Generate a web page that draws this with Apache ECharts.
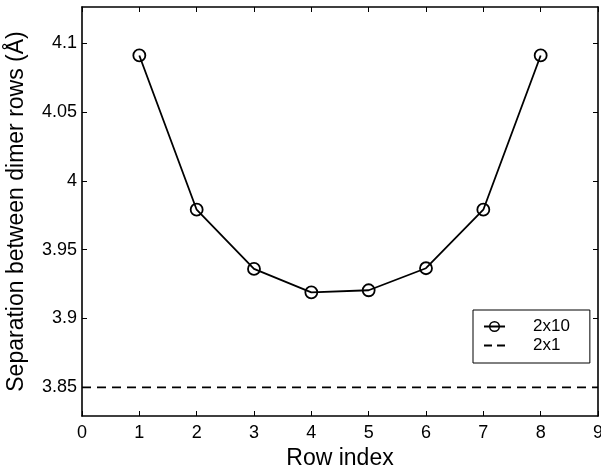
<!DOCTYPE html>
<html>
<head>
<meta charset="utf-8">
<script src="https://cdn.jsdelivr.net/npm/echarts@6/dist/echarts.min.js"></script>
<style>html,body{margin:0;padding:0;background:#fff;}#c{width:601px;height:470px;}</style>
</head>
<body>
<div id="c"></div>
<script>
var rowIndex = [1, 2, 3, 4, 5, 6, 7, 8];
var separation2x10 = [4.091, 3.979, 3.936, 3.919, 3.9205, 3.9365, 3.979, 4.091];
var ref2x1X = [0, 9];
var ref2x1Y = [3.85, 3.85];
var yTicks = [3.85, 3.9, 3.95, 4.0, 4.05, 4.1];
var xTicks = [0, 1, 2, 3, 4, 5, 6, 7, 8, 9];

var FONT = 'Liberation Sans, Arial, Helvetica, sans-serif';
var chart = echarts.init(document.getElementById('c'), null, {renderer: 'canvas'});

function pairs(xs, ys) { return xs.map(function (x, i) { return [x, ys[i]]; }); }

var axisLine = {show: true, onZero: false, lineStyle: {color: '#000', width: 1.6}};
var tick = {show: true, inside: true, length: 5, lineStyle: {color: '#000', width: 1}};

chart.setOption({
  animation: false,
  backgroundColor: '#fff',
  grid: {left: 82, right: 3, top: 7, bottom: 54, containLabel: false, outerBoundsMode: 'none'},
  legend: {
    orient: 'vertical',
    left: 473, top: 310,
    padding: [8, 20, 9, 10],
    itemGap: 2,
    itemWidth: 21, itemHeight: 12,
    backgroundColor: '#fff',
    borderColor: '#000', borderWidth: 1,
    textStyle: {fontFamily: FONT, fontSize: 17, color: '#000', padding: [0, 0, 0, 23]},
    data: [
      {name: '2x10', itemStyle: {color: 'rgba(0,0,0,0)', borderColor: '#000', borderWidth: 1.5}},
      {name: '2x1', itemStyle: {color: 'rgba(0,0,0,0)', borderColor: 'rgba(0,0,0,0)', borderWidth: 0},
       lineStyle: {type: [8, 5]}}
    ]
  },
  xAxis: [{
    type: 'value', min: 0, max: 9, interval: 1, position: 'bottom',
    name: 'Row index', nameLocation: 'middle', nameGap: 27,
    nameTextStyle: {fontFamily: FONT, fontSize: 23, color: '#000'},
    axisLine: axisLine,
    axisTick: Object.assign({}, tick, {customValues: xTicks}),
    axisLabel: {customValues: xTicks, fontFamily: FONT, fontSize: 18, color: '#000', margin: 8},
    splitLine: {show: false}
  }, {
    type: 'value', min: 0, max: 9, interval: 1, position: 'top',
    axisLine: axisLine,
    axisTick: Object.assign({}, tick, {customValues: xTicks}),
    axisLabel: {show: false},
    splitLine: {show: false}
  }],
  yAxis: [{
    type: 'value', min: 3.8292, max: 4.1262, position: 'left',
    name: 'Separation between dimer rows (Å)', nameLocation: 'middle', nameGap: 54,
    nameTextStyle: {fontFamily: FONT, fontSize: 23, color: '#000'},
    axisLine: axisLine,
    axisTick: Object.assign({}, tick, {customValues: yTicks}),
    axisLabel: {customValues: yTicks, fontFamily: FONT, fontSize: 18, color: '#000', margin: 5},
    splitLine: {show: false}
  }, {
    type: 'value', min: 3.8292, max: 4.1262, position: 'right',
    axisLine: axisLine,
    axisTick: Object.assign({}, tick, {customValues: yTicks}),
    axisLabel: {show: false},
    splitLine: {show: false}
  }],
  series: [{
    name: '2x10', type: 'line',
    data: pairs(rowIndex, separation2x10),
    symbol: 'circle', symbolSize: 12,
    itemStyle: {color: 'rgba(0,0,0,0)', borderColor: '#000', borderWidth: 1.8},
    lineStyle: {color: '#000', width: 1.8},
    z: 3
  }, {
    name: '2x1', type: 'line',
    data: pairs(ref2x1X, ref2x1Y),
    symbol: 'none',
    itemStyle: {color: '#000'},
    lineStyle: {color: '#000', width: 1.8, type: [9, 6]},
    z: 2
  }]
});
</script>
</body>
</html>
